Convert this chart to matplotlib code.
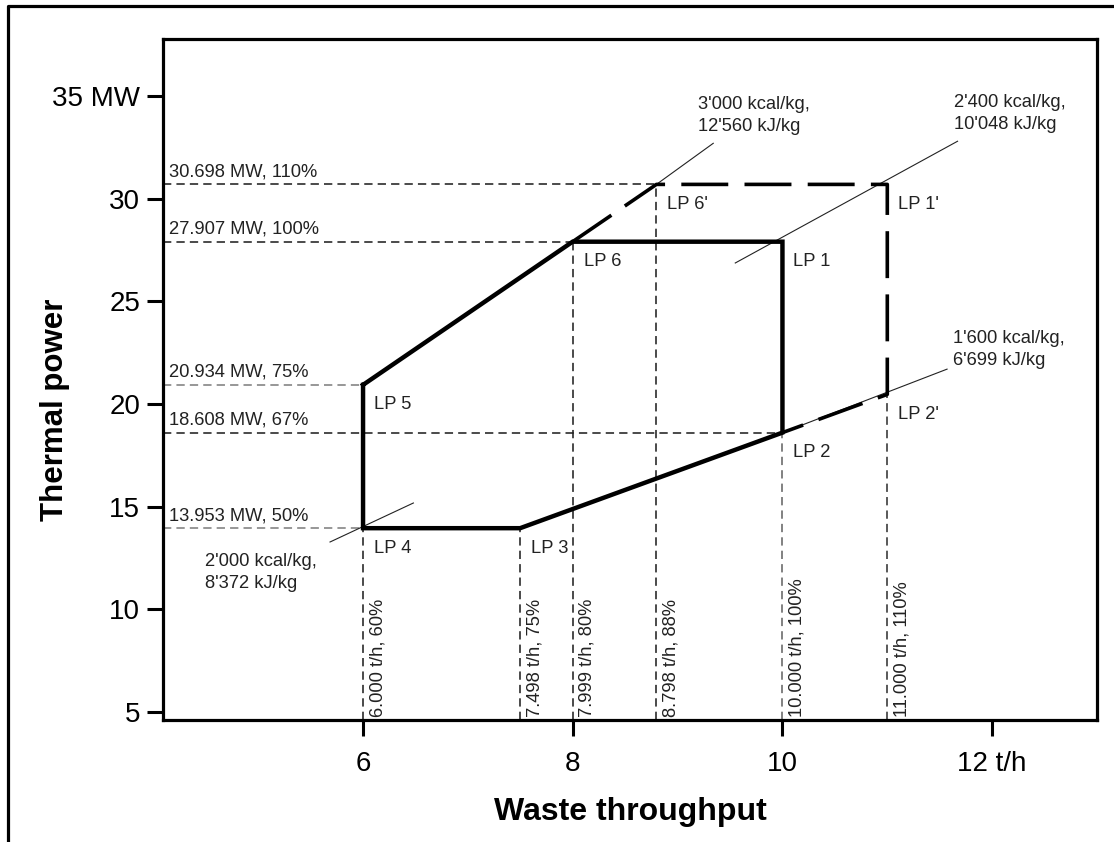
import matplotlib
matplotlib.use("Agg")
import matplotlib.pyplot as plt
from matplotlib.lines import Line2D

plt.rcParams['font.family'] = ['Liberation Sans', 'DejaVu Sans']

# load points (t/h, MW)
lp_names = ["LP 1", "LP 2", "LP 3", "LP 4", "LP 5", "LP 6", "LP 1'", "LP 2'", "LP 6'"]
lp_x = [10.000, 10.000, 7.498, 6.000, 6.000, 7.999, 11.000, 11.000, 8.798]
lp_y = [27.907, 18.608, 13.953, 13.953, 20.934, 27.907, 30.698, 20.47, 30.698]

# firing diagram outline (indices into lp lists)
solid_path = [4, 5, 0, 1, 2, 3, 4]
dashed_path = [5, 8, 6, 7, 1]

# thermal power guide lines: value, label, end point index, colour
power_mw = [30.698, 27.907, 20.934, 18.608, 13.953]
power_pct = ["110%", "100%", "75%", "67%", "50%"]
power_end = [8, 5, 4, 0, 3]
power_col = ["#222222", "#222222", "#808080", "#222222", "#808080"]

# waste throughput guide lines
thr_th = [6.000, 7.498, 7.999, 8.798, 10.000, 11.000]
thr_pct = ["60%", "75%", "80%", "88%", "100%", "110%"]
thr_top = [3, 2, 5, 8, 1, 7]
thr_col = ["#222222", "#222222", "#222222", "#222222", "#666666", "#333333"]

# calorific value lines (thin)
cv_kcal = ["3'000", "2'400", "1'600", "2'000"]
cv_kj = ["12'560", "10'048", "6'699", "8'372"]
cv_x0 = [8.798, 9.55, 10.0, 5.685]
cv_y0 = [30.698, 26.87, 18.608, 13.28]
cv_x1 = [9.34, 11.67, 11.57, 6.48]
cv_y1 = [32.7, 32.8, 21.7, 15.18]

fig = plt.figure(figsize=(11.14, 8.42), dpi=100)
ax = fig.add_axes([163/1114, 1-720/842, (1097-163)/1114, (720-39)/842])
ax.set_xlim(4.092, 13.0)
ax.set_ylim(4.61, 37.78)

fs = 13.2
# horizontal guides
for v, pct, e, c in zip(power_mw, power_pct, power_end, power_col):
    ax.plot([ax.get_xlim()[0], lp_x[e]], [v, v], color=c, lw=1.15, dashes=(5.2, 3.2))
    ax.annotate("%.3f MW, %s" % (v, pct), xy=(0, v), xycoords=ax.get_yaxis_transform(),
                xytext=(6, 8), textcoords="offset pixels", ha="left", va="baseline",
                fontsize=fs, color="#222222")
# vertical guides
for t, pct, top, c in zip(thr_th, thr_pct, thr_top, thr_col):
    ax.plot([t, t], [ax.get_ylim()[0], lp_y[top]], color=c, lw=1.15, dashes=(5.2, 3.2))
    ax.annotate("%.3f t/h, %s" % (t, pct), xy=(t, 0), xycoords=ax.get_xaxis_transform(),
                xytext=(6, 3), textcoords="offset pixels", ha="left", va="bottom",
                rotation=90, fontsize=fs, color="#222222")

# calorific value lines
for kc, kj, x0, y0, x1, y1 in zip(cv_kcal, cv_kj, cv_x0, cv_y0, cv_x1, cv_y1):
    ax.plot([x0, x1], [y0, y1], color="#222222", lw=0.8)
ax.plot([lp_x[2], lp_x[1]], [lp_y[2], lp_y[1]], color="#222222", lw=0.8)

cv_txt = [(cv_x1[0], cv_y1[0], -15, 8, "left", "bottom"),
          (cv_x1[1], cv_y1[1], -4, 8, "left", "bottom"),
          (cv_x1[2], cv_y1[2], 6, 0, "left", "bottom"),
          (cv_x0[3], cv_y0[3], -125, -11, "left", "top")]
for (kc, kj), (x, y, dx, dy, ha, va) in zip(zip(cv_kcal, cv_kj), cv_txt):
    ax.annotate("%s kcal/kg,\n%s kJ/kg" % (kc, kj), xy=(x, y), xytext=(dx, dy),
                textcoords="offset pixels", ha=ha, va=va, fontsize=fs,
                color="#222222", linespacing=1.4)

# outline
ax.plot([lp_x[i] for i in solid_path], [lp_y[i] for i in solid_path],
        color="black", lw=3.2, solid_joinstyle="miter", solid_capstyle="projecting")
ax.plot([lp_x[i] for i in dashed_path], [lp_y[i] for i in dashed_path],
        color="black", lw=2.6, dashes=(13, 4.5), dash_capstyle="butt")

for n, x, y in zip(lp_names, lp_x, lp_y):
    ax.annotate(n, xy=(x, y), xytext=(11, -20), textcoords="offset pixels",
                ha="left", va="center", fontsize=fs, color="#222222")

# axes styling
for s in ax.spines.values():
    s.set_linewidth(2.3)
ax.set_xticks([6, 8, 10, 12])
ax.set_xticklabels(["6", "8", "10", "12 t/h"])
ax.set_yticks([35, 30, 25, 20, 15, 10, 5])
ax.set_yticklabels(["35 MW", "30", "25", "20", "15", "10", "5"])
ax.tick_params(direction="out", length=11.5, width=2.2, labelsize=20, pad=5, colors="black")
ax.tick_params(axis="x", pad=11)
ax.set_xlabel("Waste throughput", fontsize=23, fontweight="bold", labelpad=14)
ax.set_ylabel("Thermal power", fontsize=22.5, fontweight="bold")
ax.yaxis.set_label_coords(-0.1, 0.455)

# outer frame (left and top)
fig.add_artist(Line2D([8/1114, 8/1114, 1], [0, 1-6/842, 1-6/842], transform=fig.transFigure,
                      color="black", lw=2.3))

fig.savefig("out.png", dpi=100)
